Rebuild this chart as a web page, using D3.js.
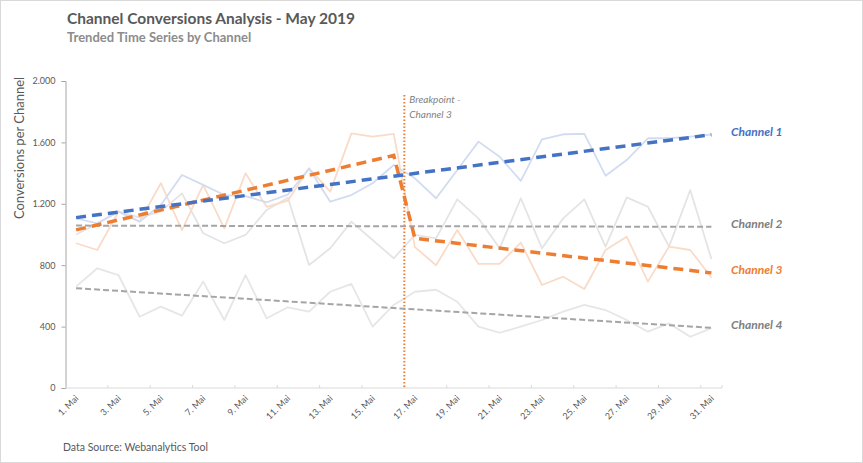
<!DOCTYPE html>
<html>
<head>
<meta charset="utf-8">
<script src="https://cdn.jsdelivr.net/npm/d3@7"></script>
<style>
  html, body { margin: 0; padding: 0; background: #fff; }
  svg { display: block; font-family: Lato, "Open Sans", sans-serif; }
</style>
</head>
<body>
<svg id="chart" width="863" height="463"></svg>
<script>
// ---------- data ----------
const days = d3.range(1, 32);
const tickLabels = days.filter(d => d % 2 === 1).map(d => d + ". Mai");
const yTicks = [0, 400, 800, 1200, 1600, 2000];

const channel1 = [1105,1073,1149,1084,1192,1388,1323,1257,1250,1210,1260,1430,1214,1257,1334,1453,1366,1236,1420,1605,1507,1349,1620,1653,1655,1383,1485,1627,1627,1637,1650];
const channel2 = [1000,1070,1150,1110,1150,1268,1008,943,997,1160,1240,801,910,1084,964,845,997,975,1229,1105,910,1236,910,1105,1229,921,1242,1181,921,1290,840];
const channel3 = [943,899,1149,1084,1334,1029,1323,1040,1399,1180,1220,1431,1279,1659,1637,1655,918,800,1029,808,808,947,671,725,645,899,986,693,921,899,720];
const channel4 = [660,780,736,464,530,471,693,443,736,454,526,497,627,678,400,541,627,640,562,400,360,400,443,497,541,508,443,367,421,334,390];

const trend1Days = [1, 31],         trend1Vals = [1110, 1650];
const trend2Days = [1, 31],         trend2Vals = [1058, 1050];
const trend3Days = [1, 16, 17, 31], trend3Vals = [1030, 1515, 975, 750];
const trend4Days = [1, 31],         trend4Vals = [650, 392];

const channelNames = ["Channel 1", "Channel 2", "Channel 3", "Channel 4"];
const breakpointAfterDay = 16;

// ---------- layout ----------
const svg = d3.select("#chart");
const W = 863, H = 463;
const plot = { left: 65.5, right: 722, top: 81, bottom: 388 };

svg.append("rect").attr("x", 0.5).attr("y", 0.5).attr("width", W - 1).attr("height", H - 1)
  .attr("fill", "#fff").attr("stroke", "#d9d9d9");

const x = d3.scalePoint().domain(days).range([plot.left, plot.right]).padding(0.5);
const step = x.step();
const y = d3.scaleLinear().domain([0, 2000]).range([plot.bottom, plot.top]);

// titles
svg.append("text").attr("x", 67).attr("y", 24).text("Channel Conversions Analysis - May 2019")
  .attr("font-size", 15.5).attr("font-weight", 700).attr("fill", "#595959");
svg.append("text").attr("x", 67).attr("y", 42).text("Trended Time Series by Channel")
  .attr("font-size", 13).attr("font-weight", 700).attr("fill", "#8c8c8c");

// y axis
const fmt = d3.formatLocale({ decimal: ",", thousands: ".", grouping: [3], currency: ["", "€"] }).format(",d");
const yAxis = svg.append("g").attr("transform", `translate(${plot.left},0)`)
  .call(d3.axisLeft(y).tickValues(yTicks).tickFormat(fmt).tickSize(4).tickPadding(6));
yAxis.select(".domain").attr("stroke", "#a6a6a6");
yAxis.selectAll(".tick line").attr("stroke", "#a6a6a6");
yAxis.selectAll("text").attr("font-size", 9).attr("fill", "#595959").attr("font-family", "Lato, sans-serif");

svg.append("text")
  .attr("transform", `translate(24,${(plot.top + 215) / 2}) rotate(-90)`)
  .attr("text-anchor", "middle").attr("font-size", 13).attr("fill", "#595959")
  .text("Conversions per Channel");

// x axis
const xAxisG = svg.append("g");
xAxisG.append("line").attr("x1", plot.left).attr("x2", plot.right)
  .attr("y1", plot.bottom).attr("y2", plot.bottom).attr("stroke", "#d9d9d9");
const boundaries = d3.range(0, 32, 2).concat([31]);
xAxisG.selectAll("line.tk").data(boundaries).join("line").attr("class", "tk")
  .attr("x1", b => plot.left + b * step).attr("x2", b => plot.left + b * step)
  .attr("y1", plot.bottom).attr("y2", plot.bottom - 3).attr("stroke", "#d9d9d9");
const labelDays = days.filter(d => d % 2 === 1);
xAxisG.selectAll("text").data(labelDays).join("text")
  .attr("transform", (d, i) => `translate(${x(d) + 3},${plot.bottom + 11}) rotate(-45)`)
  .attr("text-anchor", "end").attr("font-size", 9).attr("fill", "#595959")
  .text((d, i) => tickLabels[i]);

// lines
const rawLine = d3.line().x((v, i) => x(days[i])).y(v => y(v));
const raws = [
  { data: channel4, color: "#e6e6e6" },
  { data: channel2, color: "#e4e4e4" },
  { data: channel3, color: "#f9dbc8" },
  { data: channel1, color: "#d2dcf1" }
];
svg.append("g").selectAll("path").data(raws).join("path")
  .attr("d", r => rawLine(r.data)).attr("fill", "none")
  .attr("stroke", r => r.color).attr("stroke-width", 1.8).attr("stroke-linejoin", "round");

// breakpoint
const bx = (x(breakpointAfterDay) + x(breakpointAfterDay + 1)) / 2;
svg.append("line").attr("x1", bx).attr("x2", bx).attr("y1", 95).attr("y2", plot.bottom)
  .attr("stroke", "#ed7d31").attr("stroke-width", 2).attr("stroke-dasharray", "1.5,2");
svg.append("text").attr("x", bx + 5).attr("y", 103).attr("font-size", 10).attr("font-style", "italic")
  .attr("fill", "#7f7f7f").text("Breakpoint -");
svg.append("text").attr("x", bx + 5).attr("y", 118).attr("font-size", 10).attr("font-style", "italic")
  .attr("fill", "#7f7f7f").text("Channel 3");

// trend lines
const tLine = d3.line().x(p => x(p[0])).y(p => y(p[1]));
const trends = [
  { d: trend2Days, v: trend2Vals, color: "#a5a5a5", w: 2, dash: "6,3" },
  { d: trend4Days, v: trend4Vals, color: "#a5a5a5", w: 2, dash: "6,3" },
  { d: trend3Days, v: trend3Vals, color: "#ed7d31", w: 3.5, dash: "10,6" },
  { d: trend1Days, v: trend1Vals, color: "#4472c4", w: 3.5, dash: "10,6" }
];
svg.append("g").selectAll("path").data(trends).join("path")
  .attr("d", t => tLine(t.d.map((dd, i) => [dd, t.v[i]]))).attr("fill", "none")
  .attr("stroke", t => t.color).attr("stroke-width", t => t.w).attr("stroke-dasharray", t => t.dash);

// channel labels
const labelInfo = [
  { name: channelNames[0], v: trend1Vals[trend1Vals.length - 1], color: "#4472c4" },
  { name: channelNames[1], v: trend2Vals[trend2Vals.length - 1], color: "#7f7f7f" },
  { name: channelNames[2], v: trend3Vals[trend3Vals.length - 1], color: "#ed7d31" },
  { name: channelNames[3], v: trend4Vals[trend4Vals.length - 1], color: "#7f7f7f" }
];
svg.append("g").selectAll("text").data(labelInfo).join("text")
  .attr("x", 731).attr("y", l => y(l.v) + 1)
  .attr("font-size", 12).attr("font-style", "italic").attr("font-weight", 700)
  .attr("fill", l => l.color).text(l => l.name);

// footer
svg.append("text").attr("x", 63).attr("y", 451).attr("font-size", 10.5).attr("fill", "#595959")
  .text("Data Source: Webanalytics Tool");
</script>
</body>
</html>
